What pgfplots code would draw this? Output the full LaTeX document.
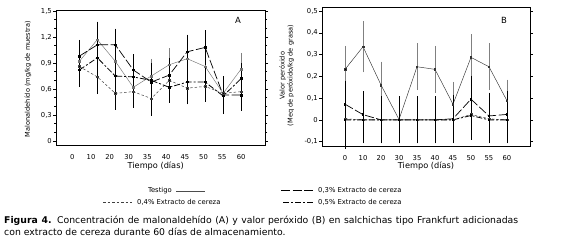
\documentclass[border=0pt]{standalone}
\usepackage{pgfplots}
\pgfplotsset{compat=1.18}
\usepackage{pgfplotstable}
\usepackage{fontspec}
\setmainfont{DejaVu Sans}

% ---------- Panel A: malonaldehido ----------
\pgfplotstableread{
x y e
0 0.92 0.15
1 1.17 0.19
2 0.92 0.15
3 0.62 0.17
4 0.75 0.18
5 0.88 0.17
6 0.95 0.17
7 0.86 0.18
8 0.55 0.18
9 0.83 0.17
}\Atest
\pgfplotstableread{
x y e
0 0.98 0.17
1 1.11 0.25
2 1.11 0.17
3 0.82 0.16
4 0.68 0.17
5 0.76 0.18
6 1.03 0.18
7 1.08 0.18
8 0.53 0.18
9 0.53 0.16
}\Atres
\pgfplotstableread{
x y e
0 0.86 0.20
1 0.74 0.18
2 0.55 0.17
3 0.57 0.17
4 0.49 0.18
5 0.70 0.17
6 0.61 0.17
7 0.63 0.16
8 0.55 0.18
9 0.57 0.20
}\Acuatro
\pgfplotstableread{
x y e
0 0.82 0.18
1 0.96 0.20
2 0.75 0.17
3 0.74 0.16
4 0.70 0.18
5 0.62 0.16
6 0.68 0.18
7 0.68 0.17
8 0.52 0.19
9 0.72 0.16
}\Acinco

% ---------- Panel B: valor peroxido ----------
\pgfplotstableread{
x y e
0 0.232 0.10
1 0.336 0.11
2 0.160 0.10
3 0.002 0.10
4 0.244 0.10
5 0.232 0.10
6 0.072 0.095
7 0.287 0.10
8 0.244 0.10
9 0.088 0.09
}\Btest
\pgfplotstableread{
x y e
0 0.072 0.10
1 0.024 0.10
2 0.000 0.10
3 0.000 0.10
4 0.000 0.10
5 0.000 0.10
6 0.005 0.10
7 0.095 0.10
8 0.018 0.10
9 0.025 0.10
}\Btres
\pgfplotstableread{
x y e
0 0.005 0.13
1 0.000 0.10
2 0.000 0.10
3 0.000 0.10
4 0.000 0.10
5 0.000 0.10
6 0.000 0.10
7 0.025 0.11
8 0.005 0.10
9 0.000 0.10
}\Bcuatro
\pgfplotstableread{
x y e
0 0.000 0.10
1 0.000 0.10
2 0.000 0.10
3 0.000 0.10
4 0.000 0.10
5 0.000 0.10
6 0.000 0.10
7 0.020 0.10
8 0.000 0.10
9 0.000 0.10
}\Bcinco

\tikzset{
  stest/.style={draw=black!55, line width=0.45pt},
  stres/.style={draw=black, line width=0.7pt, dash pattern=on 9pt off 2.5pt},
  scuatro/.style={draw=black!75, line width=0.5pt, dash pattern=on 2.5pt off 2pt},
  scinco/.style={draw=black, line width=0.8pt, dash pattern=on 6pt off 2pt on 2pt off 2pt},
}

\pgfplotsset{
  myax/.style={
    scale only axis,
    axis line style={line width=0.7pt},
    tick align=outside,
    major tick length=3pt,
    minor tick length=2pt,
    every tick/.style={black, line width=0.5pt},
    xtick style={draw=none},
    /pgf/number format/.cd, use comma, fixed, precision=1, assume math mode=true,
    /pgfplots/.cd,
    ticklabel style={font=\fontsize{6.8}{8}\selectfont},
    xticklabel style={yshift=-3pt},
    yticklabel style={inner sep=1pt},
    clip=false,
  },
  eb/.style={
    error bars/.cd, y dir=both, y explicit,
    error bar style={line width=0.8pt, solid, draw=#1},
    error mark options={line width=0.7pt, mark size=1.6pt, draw=#1},
  },
}

\begin{document}
\begin{tikzpicture}[x=1pt,y=1pt]
\path[use as bounding box] (0,0) rectangle (561,249);

% ===== Panel A =====
\begin{axis}[myax,
  at={(56pt,104pt)}, anchor=south west,
  width=209pt, height=135pt,
  xmin=-1.30, xmax=10.33, ymin=-0.046, ymax=1.512,
  xtick={-0.39,0.65,1.69,2.74,3.78,4.83,5.87,6.91,7.95,9.0},
  xticklabels={0,10,20,30,35,40,45,50,55,60},
  ytick={0,0.3,0.6,0.9,1.2,1.5},
  minor y tick num=2,
]
\addplot[stest, mark=square*, mark size=0.7pt, mark options={solid, fill=black!55, draw=black!55}, eb=black!50]
  table[x=x, y=y, y error=e] {\Atest};
\addplot[stres, mark=square*, mark size=0.8pt, mark options={solid, fill=black}, eb=black]
  table[x=x, y=y, y error=e] {\Atres};
\addplot[scuatro, mark=square*, mark size=0.8pt, mark options={solid, fill=black}, eb=black]
  table[x=x, y=y, y error=e] {\Acuatro};
\addplot[scinco, mark=square*, mark size=0.8pt, mark options={solid, fill=black}, eb=black]
  table[x=x, y=y, y error=e] {\Acinco};
\end{axis}

% ===== Panel B =====
\begin{axis}[myax,
  at={(322pt,103pt)}, anchor=south west,
  width=208pt, height=138.7pt,
  xmin=-1.28, xmax=10.28, ymin=-0.12, ymax=0.517,
  xtick={0,1,2,3,4,5,6,7,8,9},
  xticklabels={0,10,20,30,35,40,45,50,55,60},
  ytick={-0.1,0,0.1,0.2,0.3,0.4,0.5},
]
\addplot[stest, draw=black!80, mark=square*, mark size=0.7pt, mark options={solid, fill=black}, eb=black!50]
  table[x=x, y=y, y error=e] {\Btest};
\addplot[stres, mark=square*, mark size=0.8pt, mark options={solid, fill=black}, eb=black]
  table[x=x, y=y, y error=e] {\Btres};
\addplot[scuatro, mark=square*, mark size=0.8pt, mark options={solid, fill=black}, eb=black]
  table[x=x, y=y, y error=e] {\Bcuatro};
\addplot[scinco, mark=square*, mark size=0.8pt, mark options={solid, fill=black}, eb=black]
  table[x=x, y=y, y error=e] {\Bcinco};
\end{axis}

% panel letters
\node[font=\fontsize{8.5}{9}\selectfont] at (238,229) {A};
\node[font=\fontsize{8.5}{9}\selectfont] at (504,229) {B};

% axis labels
\node[rotate=90, font=\fontsize{6.6}{8}\selectfont] at (28,170) {Malonaldehído (mg/kg de muestra)};
\node[rotate=90, align=center, font=\fontsize{6.6}{8}\selectfont] at (286.7,173.5) {Valor peróxido\\(Meq de peróxido/kg de grasa)};
\node[font=\fontsize{8.2}{9}\selectfont] at (155.7,83) {Tiempo (días)};
\node[font=\fontsize{8.2}{9}\selectfont] at (426,83) {Tiempo (días)};

% legend
\begin{scope}[font=\fontsize{6.8}{7}\selectfont]
\node[anchor=east, inner sep=0pt] at (172,58.3) {Testigo};
\draw[stest, draw=black!70] (176,57.3) -- (205,57.3);
\draw[scuatro] (103,47) -- (132,47);
\node[anchor=west, inner sep=0pt] at (137,47) {0,4\% Extracto de cereza};
\draw[stres] (281,58.3) -- (313,58.3);
\node[anchor=west, inner sep=0pt] at (318,58.3) {0,3\% Extracto de cereza};
\draw[scinco] (283,47) -- (313,47);
\node[anchor=west, inner sep=0pt] at (318,47) {0,5\% Extracto de cereza};
\end{scope}

% caption
\begin{scope}[font=\fontsize{9.3}{11}\selectfont]
\node[anchor=base west, inner sep=0pt] at (4,25.5) {\makebox[514pt][s]{\textbf{Figura 4.} Concentración de malonaldehído (A) y valor peróxido (B) en salchichas tipo Frankfurt adicionadas}};
\node[anchor=base west, inner sep=0pt] at (4,14) {con extracto de cereza durante 60 días de almacenamiento.};
\end{scope}
\end{tikzpicture}
\end{document}
